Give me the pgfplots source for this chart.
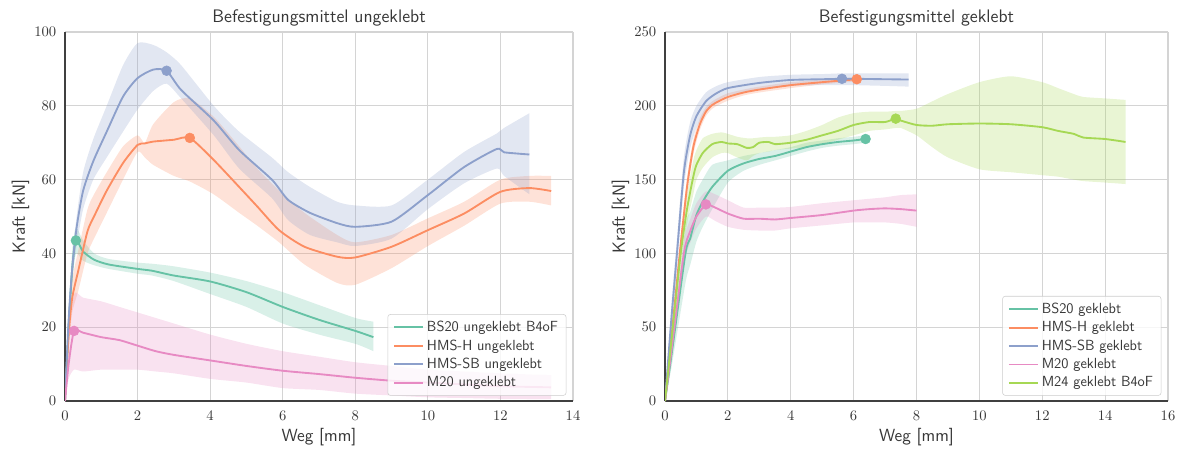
\documentclass[border=0pt]{standalone}
\usepackage{pgfplots}
\pgfplotsset{compat=1.18}
\usepackage{pgfplotstable}
\usepgfplotslibrary{fillbetween}

% Set2 palette
\definecolor{cteal}{RGB}{102,194,165}
\definecolor{corange}{RGB}{252,141,98}
\definecolor{cblue}{RGB}{141,160,203}
\definecolor{cpink}{RGB}{231,138,195}
\definecolor{cgreen}{RGB}{166,216,84}
\definecolor{txt}{RGB}{55,55,55}

% ---------- Befestigungsmittel ungeklebt: x [mm], mean, lower, upper [kN]
\pgfplotstableread{
x mean lo hi
0 0 0 0
0.1 20 16 24
0.2 36 32 41
0.3 43.5 40 47
0.5 40.5 38 43.5
0.8 38.3 36.8 40
1.2 37 35.8 38.5
2 35.8 34.5 37.5
2.4 35.3 34 37.2
3 34 32.5 36.5
4 32.4 29 34.8
5 29.5 25.5 32.5
6 25.5 21 29.5
7 22 18 26
8 19 15.5 22.5
8.5 17.3 13.5 21.5
}\uBS
\pgfplotstableread{
x mean lo hi
0 0 0 0
0.1 18 14 22
0.2 28 24 33
0.37 35.5 30 41
0.62 46 40 52
0.8 50 44 56
1.15 57 51 62
1.6 64.5 60 69
2.0 69.4 67.5 72
2.2 69.8 66 70
2.43 70.3 64 75
3.0 70.8 61 81
3.44 71.3 59.5 82
4.1 65.3 56 77
4.8 58 51 69
5.3 52.7 47.5 63
5.9 46.3 43 57
6.6 41.8 37 51
7.5 39.1 32 45
8 38.9 31.5 43
9 41.8 36 45
10 46.3 42 49.5
11 50.8 47.5 54
12 56.7 53.5 60
12.8 57.7 54 61
13.4 56.9 53 61
}\uHMSH
\pgfplotstableread{
x mean lo hi
0 0 0 0
0.1 22 19 25
0.2 36 33 39
0.32 47 42 50
0.5 57 52 62
0.78 65 60 71
1.15 73 66 80
1.6 82.5 73 91
2.0 87.5 79 97
2.43 89.8 84 96.5
2.8 89.5 86 94.5
3.2 84.3 82 91
4.1 76 72 80
4.8 68 63 73
5.7 60 55 66
6.15 54.5 49 62
6.75 51 45 58
7.5 48.2 43 54
8 47.2 42 53
9 48.6 44 53
10 55.8 52 60
11 63.4 59 67.5
11.9 68.3 63 72.5
12.1 67.4 61 74
12.8 66.8 56 78
}\uHMSSB
\pgfplotstableread{
x mean lo hi
0 0 0 0
0.1 10 6 16
0.25 19 8.5 29
0.5 18.5 8 28
1 17.3 8.5 27
1.5 16.5 8.5 25.5
2 15 8.5 24
2.5 13.5 8 22.5
3 12.5 7.5 21
4 11 6 18
5 9.5 5 15.5
6 8.2 3.5 13.5
7 7.3 3 12
8 6.3 2 10.5
9 5.5 1.5 9.5
10 5 1 8.5
11 4.5 0.8 8
12 4 0.6 7.5
13.4 3.7 0.5 7
}\uM

% ---------- Befestigungsmittel geklebt
\pgfplotstableread{
x mean lo hi
0 0 0 0
0.2 30 22 38
0.65 100 80 118
0.8 110 92 128
1.0 126 108 142
1.2 135 118 150
1.5 145 130 160
2.0 156 148 163
2.5 161 156 166
3.0 164 160 168
3.5 166 163 170
4.0 169 166 172
4.5 172 169 175
5 174 171.5 176.5
5.5 175.5 173 178
6 176.5 174 179
6.38 177.5 175 180
}\gBS
\pgfplotstableread{
x mean lo hi
0 0 0 0
0.2 42 38 46
0.47 100 94 106
0.7 145 139 151
0.9 172 167 177
1.1 187 183 191
1.3 196 193 199
1.5 200.5 198 203
1.7 203 200.5 205.5
2 206 203.5 208.5
2.5 209 207 211
3 211 209 213
4 214 212 216
5 216 214.5 217.5
6.1 218 216.5 219.5
}\gHMSH
\pgfplotstableread{
x mean lo hi
0 0 0 0
0.2 55 46 64
0.38 100 90 110
0.6 155 145 165
0.8 180 171 189
1.0 193 185 200
1.3 203 196 209
1.6 208 202 213
2 212 207 216
3 215.5 211 219.5
4 217.5 213.5 221
5 218 214 221.5
5.63 218.3 214 222
6 218.3 214 222
7 218 213.5 222
7.75 217.8 213 222
}\gHMSSB
\pgfplotstableread{
x mean lo hi
0 0 0 0
0.2 33 28 38
0.6 100 92 108
0.8 115 107 123
1.0 125 117 134
1.3 133 125 142
1.6 131 122 140
2.0 127 118 136
2.5 123.5 116 131
3.0 123.5 115.5 131
3.5 123 115.5 131
4 124 117 131.5
5 126 119 134
6 129 121 136
6.5 130 121 137
7 130.5 121 138
7.5 130 120 139.5
8 129 118 140
}\gM
\pgfplotstableread{
x mean lo hi
0 0 0 0
0.2 40 36 44
0.5 100 92 108
0.7 130 120 140
0.9 152 140 163
1.0 160 150 170
1.2 168 158 178
1.5 174 165 181
1.8 175.5 168 182
2.0 174.5 168 181
2.3 174 165 179
2.6 171.5 163 178
2.8 172 166 178
3.0 175 168 178.5
3.3 175.5 169 179
3.5 174 170 179
4 175 171 180
4.5 177 172 183
5 180 174 187
5.5 183 177 192
6 187 180 195
6.5 189 183 196
7 189 184 196
7.34 191.3 185 196.5
7.5 190 185 196.5
8 187 180 198
8.5 186.5 172 203
9 187.5 165 208
10 188 157 216
11 187.5 155 220
12 185.5 153 216
12.5 183 152 212
13 181 150 208
13.3 178.5 149 206
14 177.5 148 205
14.65 175.5 147 204
}\gMM

% mean curve with its scatter band and a dot at the peak
\newcommand{\series}[5]{%
  \addplot[draw=none, smooth, tension=0.4, forget plot, name path=#2hi] table[x=x,y=hi]{#1};
  \addplot[draw=none, smooth, tension=0.4, forget plot, name path=#2lo] table[x=x,y=lo]{#1};
  \addplot[fill=#3, fill opacity=0.25, draw=none, forget plot] fill between[of=#2hi and #2lo];
  \addplot[#3, line width=1.4pt, smooth, tension=0.4] table[x=x,y=mean]{#1};
  \addlegendentry{#4}
  \addplot[#3, only marks, mark=*, mark size=3.7pt, forget plot] coordinates {#5};
}

\pgfplotsset{
  kraft/.style={
    scale only axis,
    height=276.75pt,
    xmin=0, ymin=0,
    axis x line*=bottom, axis y line*=left,
    axis line style={-, draw=black!75, line width=1.4pt},
    grid=major,
    major grid style={draw=black!17, line width=0.8pt},
    major tick length=0pt,
    tick label style={font=\fontsize{10.5}{12}\selectfont, text=txt},
    xticklabel style={yshift=-4pt},
    yticklabel style={xshift=-3pt},
    xlabel={Weg [mm]}, ylabel={Kraft [kN]},
    label style={font=\sffamily\fontsize{13.2}{15}\selectfont, text=txt},
    title style={font=\sffamily\fontsize{13.6}{15}\selectfont, text=txt, yshift=-5pt},
    xlabel style={yshift=1pt},
    ylabel style={yshift=-3pt},
    legend cell align=left,
    legend style={at={(rel axis cs:1,0)}, anchor=south east, xshift=-5pt, yshift=4pt,
      draw=black!20, rounded corners=2pt, fill=white, fill opacity=0.8, text opacity=1,
      font=\sffamily\fontsize{11}{13}\selectfont, text=txt,
      row sep=0.5pt, inner xsep=4pt, inner ysep=3pt},
    legend image code/.code={\draw[#1, line width=1.4pt] (0pt,0pt) -- (22pt,0pt);},
  }
}

\begin{document}
\begin{tikzpicture}
\path (-48.75pt,-36.75pt) rectangle (843pt,300.75pt);

\begin{axis}[kraft, at={(0pt,0pt)}, anchor=south west, width=381pt,
  xmax=14, ymax=100, xtick={0,2,...,14}, ytick={0,20,...,100},
  title={Befestigungsmittel ungeklebt}]
  \series{\uBS}{ubs}{cteal}{BS20 ungeklebt B4oF}{(0.3,43.5)}
  \series{\uHMSH}{uhh}{corange}{HMS-H ungeklebt}{(3.44,71.3)}
  \series{\uHMSSB}{uhs}{cblue}{HMS-SB ungeklebt}{(2.8,89.5)}
  \series{\uM}{um}{cpink}{M20 ungeklebt}{(0.25,19)}
\end{axis}

\begin{axis}[kraft, at={(450pt,0pt)}, anchor=south west, width=377.25pt,
  xmax=16, ymax=250, xtick={0,2,...,16}, ytick={0,50,...,250},
  title={Befestigungsmittel geklebt}]
  \series{\gBS}{gbs}{cteal}{BS20 geklebt}{(6.38,177.5)}
  \series{\gHMSH}{ghh}{corange}{HMS-H geklebt}{(6.1,218)}
  \series{\gHMSSB}{ghs}{cblue}{HMS-SB geklebt}{(5.63,218.3)}
  \series{\gM}{gm}{cpink}{M20 geklebt}{(1.3,133.2)}
  \series{\gMM}{gmm}{cgreen}{M24 geklebt B4oF}{(7.34,191.3)}
\end{axis}
\end{tikzpicture}
\end{document}
